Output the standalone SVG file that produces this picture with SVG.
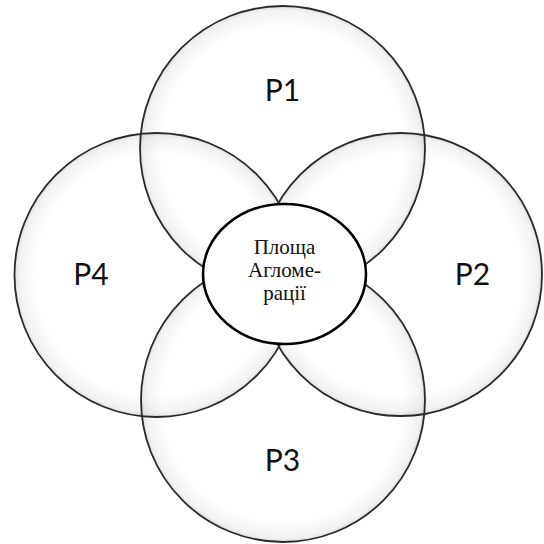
<svg xmlns="http://www.w3.org/2000/svg" width="544" height="544" viewBox="0 0 544 544">
<defs>
<radialGradient id="glow" cx="0.5" cy="0.5" r="0.5">
<stop offset="0.85" stop-color="#000" stop-opacity="0"/>
<stop offset="0.97" stop-color="#000" stop-opacity="0.05"/>
<stop offset="1" stop-color="#000" stop-opacity="0.12"/>
</radialGradient>
</defs>
<style>
.c{fill:url(#glow);stroke:#2a2a2a;stroke-width:1.8}
.lbl{font-family:Lato,"DejaVu Sans",sans-serif;font-size:30px;fill:#111;text-anchor:middle}
.ctr{font-family:"Liberation Serif","DejaVu Serif",serif;font-size:21px;fill:#111;text-anchor:middle}
</style>
<rect width="544" height="544" fill="#fff"/>
<g id="P1"><circle class="c" cx="282.5" cy="148.5" r="142.5"/><text class="lbl" x="282.5" y="101">P1</text></g>
<g id="P4"><circle class="c" cx="156.5" cy="275" r="142"/><text class="lbl" x="91" y="285">P4</text></g>
<g id="P2"><circle class="c" cx="400.5" cy="274.5" r="141.5"/><text class="lbl" x="472.5" y="285">P2</text></g>
<g id="P3"><circle class="c" cx="283" cy="400" r="142"/><text class="lbl" x="282.5" y="471">P3</text></g>
<g id="center"><ellipse cx="284.5" cy="274" rx="81.5" ry="70" fill="#fff" stroke="#000" stroke-width="2.6"/>
<text class="ctr" x="284.5" y="254">Площа</text>
<text class="ctr" x="284.5" y="277">Агломе-</text>
<text class="ctr" x="284.5" y="300">рації</text></g>
<g id="connectors"/>
</svg>
